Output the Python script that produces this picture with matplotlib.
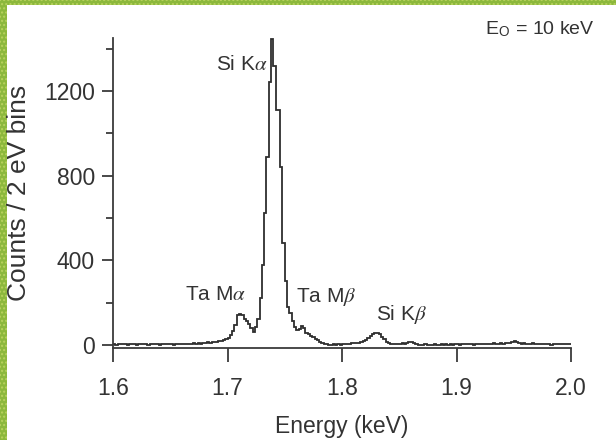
import numpy as np
import matplotlib
matplotlib.use('Agg')
import matplotlib.pyplot as plt
from matplotlib.patches import Rectangle

# EDS spectrum, 2 eV bins from 1.600 to 2.000 keV
e_start = 1.6
bin_width = 0.002
counts = [
    # 1.600 - 1.640
    3, 2, 4, 3, 5, 3, 2, 4, 3, 4, 2, 3, 5, 4, 3, 2, 4, 3, 3, 4,
    # 1.640 - 1.680
    2, 4, 3, 5, 3, 4, 2, 3, 4, 5, 3, 4, 6, 5, 4, 7, 6, 8, 6, 9,
    # 1.680 - 1.720  (Ta M alpha)
    8, 12, 10, 14, 12, 16, 18, 20, 22, 28, 35, 47, 68, 95, 140, 145, 140, 125, 112, 100,
    # 1.720 - 1.760  (Si K alpha)
    80, 62, 86, 125, 220, 378, 624, 887, 1241, 1445, 1320, 1109, 1109, 840, 480, 300, 181, 150, 115, 85,
    # 1.760 - 1.800  (Ta M beta)
    72, 75, 88, 78, 58, 52, 42, 38, 28, 22, 15, 8, 6, 3, 2, 0, 3, 0, 4, 2,
    # 1.800 - 1.840  (Si K beta)
    6, 4, 6, 3, 7, 9, 11, 8, 12, 18, 24, 33, 44, 52, 56, 55, 52, 40, 28, 16,
    # 1.840 - 1.880
    8, 4, 5, 4, 6, 5, 7, 6, 8, 12, 16, 10, 5, 2, 0, 1, 3, 2, 0, 2,
    # 1.880 - 1.920
    3, 1, 2, 4, 2, 3, 1, 3, 2, 4, 3, 2, 4, 3, 5, 3, 4, 2, 5, 4,
    # 1.920 - 1.960
    3, 5, 4, 6, 4, 5, 7, 5, 6, 8, 6, 7, 9, 8, 12, 18, 12, 8, 6, 7,
    # 1.960 - 2.000
    5, 6, 4, 7, 5, 3, 6, 4, 5, 3, 4, 2, 5, 3, 4, 6, 3, 5, 4, 6,
]
edges = e_start + bin_width * np.arange(len(counts) + 1)

x_ticks = [1.6, 1.7, 1.8, 1.9, 2.0]
x_ticklabels = ['1.6', '1.7', '1.8', '1.9', '2.0']
y_ticks = [0, 400, 800, 1200]
y_minor = [200, 600, 1000, 1400]

peak_labels = [r'Si K$\alpha$', r'Ta M$\alpha$', r'Ta M$\beta$', r'Si K$\beta$']
label_pos = [(1.7127, 1298), (1.6892, 212), (1.7864, 204), (1.8522, 118)]

plt.rcParams['font.family'] = ['Liberation Sans', 'DejaVu Sans']
plt.rcParams['mathtext.fontset'] = 'stix'

ink = '#333333'

fig = plt.figure(figsize=(6.16, 4.40), dpi=100)
ax = fig.add_axes([0.1835, 0.2102, 0.7435, 0.7034])

ax.stairs(counts, edges, baseline=None, color='#2e2e2e', linewidth=1.3)

ax.set_xlim(1.6, 2.0)
ax.set_ylim(-12, 1450)
ax.set_xticks(x_ticks)
ax.set_xticklabels(x_ticklabels)
ax.set_yticks(y_ticks)
ax.set_yticks(y_minor, minor=True)

for side in ['top', 'right']:
    ax.spines[side].set_visible(False)
for side in ['left', 'bottom']:
    ax.spines[side].set_color('#3a3a3a')
    ax.spines[side].set_linewidth(1.3)

ax.tick_params(axis='x', direction='out', length=10, width=1.3, pad=11,
               labelsize=16.5, colors='#3a3a3a', labelcolor=ink)
ax.tick_params(axis='y', which='major', direction='out', length=8, width=1.3,
               pad=5, labelsize=16.5, colors='#3a3a3a', labelcolor=ink)
ax.tick_params(axis='y', which='minor', direction='out', length=5, width=1.3,
               colors='#3a3a3a')

ax.set_xlabel('Energy (keV)', fontsize=16.5, color=ink, labelpad=11)
ax.set_ylabel('Counts / 2 eV bins', fontsize=19, color=ink)
ax.yaxis.set_label_coords(-0.18, 0.5)

for txt, (x, y) in zip(peak_labels, label_pos):
    ax.text(x, y, txt, fontsize=15, color=ink, ha='center', va='baseline')

fig.text(0.877, 0.934, r'E$_{\mathregular{O}}$ = 10 keV', fontsize=14, color=ink,
         ha='center', va='center')

# green frame strips on the left and top edges
fig.patches.append(Rectangle((0, 0), 0.0114, 1, transform=fig.transFigure,
                             facecolor='#8cb83c', edgecolor='#b8d25e',
                             linewidth=0, hatch='....', zorder=-1))
fig.patches.append(Rectangle((0, 0.9886), 1, 0.0114, transform=fig.transFigure,
                             facecolor='#8cb83c', edgecolor='#b8d25e',
                             linewidth=0, hatch='....', zorder=-1))

fig.savefig('out.png', dpi=100)
